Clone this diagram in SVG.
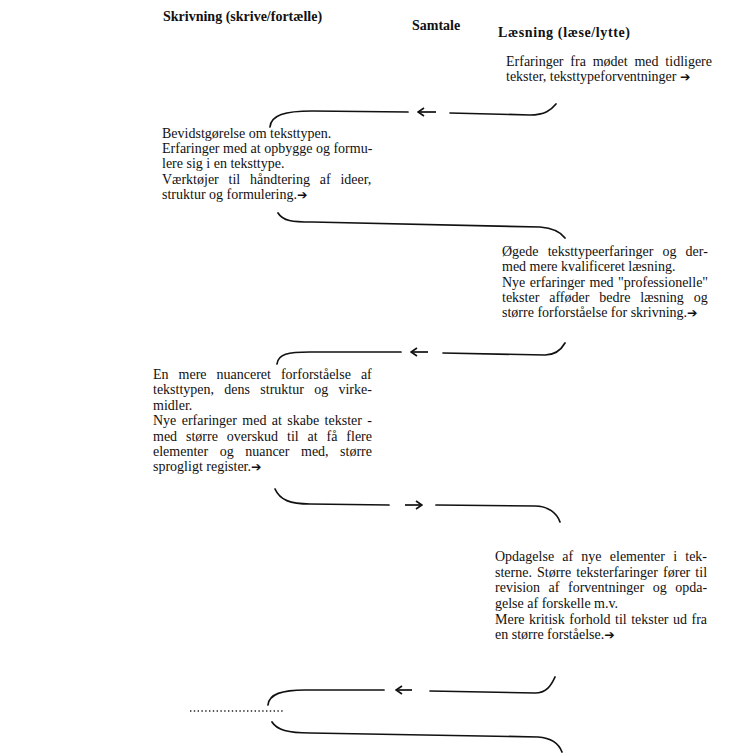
<svg xmlns="http://www.w3.org/2000/svg" width="741" height="753" viewBox="0 0 741 753">
<style>
text{font-family:"Liberation Serif","Times New Roman",serif;fill:#111;}
.h{font-size:14px;font-weight:bold;}
.t{font-size:14px;}
.ar{font-family:"DejaVu Sans",sans-serif;font-size:12.5px;}
.c{fill:none;stroke:#111;stroke-width:1.7;stroke-linecap:round;}
.a{fill:none;stroke:#111;stroke-width:1.7;}
.dot{fill:none;stroke:#222;stroke-width:1.4;stroke-dasharray:1.4 2.4;}
</style>
<defs>
<marker id="head" viewBox="0 0 8 10" refX="7" refY="5" markerWidth="8" markerHeight="10" markerUnits="userSpaceOnUse" orient="auto">
<path d="M1,1 L7,5 L1,9" fill="none" stroke="#111" stroke-width="1.7"/>
</marker>
</defs>
<rect width="741" height="753" fill="#ffffff"/>
<g id="headers">
<text class="h" x="163" y="21">Skrivning (skrive/fortælle)</text>
<text class="h" x="412" y="30">Samtale</text>
<text class="h" x="498" y="37" textLength="132">Læsning (læse/lytte)</text>
</g>
<g id="node-erfaringer">
<text class="t" x="506" y="66" word-spacing="3.3">Erfaringer fra mødet med tidligere</text>
<text class="t" x="506" y="81">tekster, teksttypeforventninger <tspan class="ar">➔</tspan></text>
</g>
<g id="node-bevidstgorelse">
<text class="t" x="162" y="138">Bevidstgørelse om teksttypen.</text>
<text class="t" x="162" y="153">Erfaringer med at opbygge og formu-</text>
<text class="t" x="162" y="168">lere sig i en teksttype.</text>
<text class="t" x="162" y="184" word-spacing="6.3">Værktøjer til håndtering af ideer,</text>
<text class="t" x="162" y="199">struktur og formulering.<tspan class="ar">➔</tspan></text>
</g>
<g id="node-ogede">
<text class="t" x="502" y="256" word-spacing="5.6">Øgede teksttypeerfaringer og der-</text>
<text class="t" x="502" y="271">med mere kvalificeret læsning.</text>
<text class="t" x="502" y="287" word-spacing="1">Nye erfaringer med "professionelle"</text>
<text class="t" x="502" y="302" word-spacing="6.4">tekster afføder bedre læsning og</text>
<text class="t" x="502" y="317">større forforståelse for skrivning.<tspan class="ar">➔</tspan></text>
</g>
<g id="node-nuanceret">
<text class="t" x="153" y="379" word-spacing="6.5">En mere nuanceret forforståelse af</text>
<text class="t" x="153" y="394" word-spacing="6.8">teksttypen, dens struktur og virke-</text>
<text class="t" x="153" y="410">midler.</text>
<text class="t" x="153" y="425" word-spacing="1.9">Nye erfaringer med at skabe tekster -</text>
<text class="t" x="153" y="441" word-spacing="5.4">med større overskud til at få flere</text>
<text class="t" x="153" y="456" word-spacing="8">elementer og nuancer med, større</text>
<text class="t" x="153" y="471">sprogligt register.<tspan class="ar">➔</tspan></text>
</g>
<g id="node-opdagelse">
<text class="t" x="495" y="561" word-spacing="4.7">Opdagelse af nye elementer i tek-</text>
<text class="t" x="495" y="577" word-spacing="1.6">sterne. Større teksterfaringer fører til</text>
<text class="t" x="495" y="592" word-spacing="5">revision af forventninger og opda-</text>
<text class="t" x="495" y="608">gelse af forskelle m.v.</text>
<text class="t" x="495" y="624" word-spacing="1">Mere kritisk forhold til tekster ud fra</text>
<text class="t" x="495" y="639">en større forståelse.<tspan class="ar">➔</tspan></text>
</g>
<g id="node-dots">
<line class="dot" x1="190" y1="711" x2="283" y2="711"/>
</g>
<g id="connectors">
<path class="c" d="M270,127 C271,115 285,111 312,111 L408,112"/>
<path class="a" d="M436,112 L418,112" marker-end="url(#head)"/>
<path class="c" d="M450,113 L530,115 C545,115 551,110 556,104"/>

<path class="c" d="M278,213 C283,221 292,222 312,222 L540,227 C552,228 560,231 565,238"/>

<path class="c" d="M277,364 C278,354 288,352 310,352 L401,352"/>
<path class="a" d="M428,352 L411,352" marker-end="url(#head)"/>
<path class="c" d="M443,353 L545,355 C555,355 561,350 565,343"/>

<path class="c" d="M275,489 C280,500 290,504 310,504 L389,505"/>
<path class="a" d="M405,505 L422,505" marker-end="url(#head)"/>
<path class="c" d="M436,505 L535,506 C548,506 557,513 560,522"/>

<path class="c" d="M268,705 C269,694 282,690 305,690 L384,690"/>
<path class="a" d="M412,690 L396,690" marker-end="url(#head)"/>
<path class="c" d="M430,691 L535,693 C546,693 551,686 555,677"/>

<path class="c" d="M272,722 C277,730 288,733 310,733 L538,737 C552,738 559,744 562,752"/>
</g>
</svg>
